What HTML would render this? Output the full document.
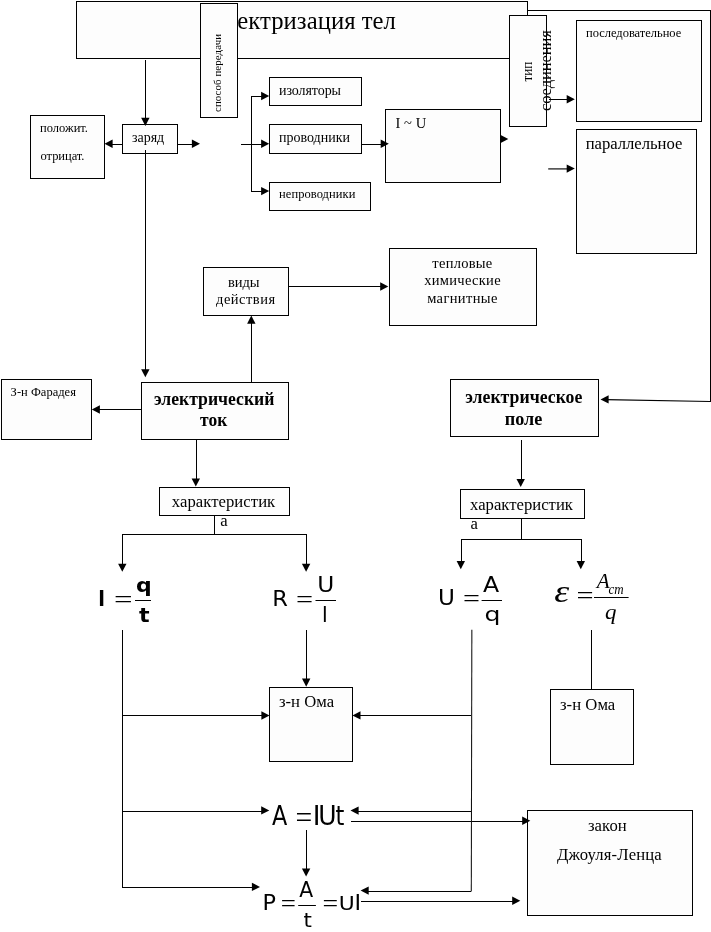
<!DOCTYPE html>
<html lang="ru">
<head>
<meta charset="utf-8">
<title>Электризация тел</title>
<style>
html,body{margin:0;padding:0;background:#fff;}
body{width:711px;height:932px;overflow:hidden;font-family:"Liberation Serif",serif;}
svg{display:block;will-change:transform;opacity:0.999;}
svg .g{shape-rendering:crispEdges;}
svg text{fill:#000;white-space:pre;}
</style>
</head>
<body>
<svg width="711" height="932" viewBox="0 0 711 932">
<rect x="0" y="0" width="711" height="932" fill="#fff"/>
<g class="g">
<rect x="527" y="10" width="184" height="1" fill="#000"/>
<rect x="710" y="10" width="1" height="392" fill="#000"/>
<rect x="76.5" y="1.5" width="451" height="57" fill="#fdfdfd" stroke="#000" stroke-width="1"/>
</g>
<text x="209" y="29" font-family="'Liberation Serif', serif" font-size="24.7" letter-spacing="0.04">Электризация тел</text>
<g class="g">
<rect x="200.5" y="3.5" width="37" height="114" fill="#fdfdfd" stroke="#000" stroke-width="1"/>
<rect x="509.5" y="15.5" width="37" height="111" fill="#fdfdfd" stroke="#000" stroke-width="1"/>
</g>
<text transform="translate(221,112) rotate(-90)" font-family="'Liberation Serif', serif" font-size="10.8" letter-spacing="0.12">способ передачи</text>
<text transform="translate(532,81.5) rotate(-90) scale(0.8475,1)" font-family="'Liberation Serif', serif" font-size="15.5">тип</text>
<text transform="translate(551,111) rotate(-90)" font-family="'Liberation Serif', serif" font-size="16.67" letter-spacing="-0.15">соединения</text>
<g class="g">
<rect x="30.5" y="115.5" width="74" height="63" fill="#fdfdfd" stroke="#000" stroke-width="1"/>
<rect x="122.5" y="124.5" width="55" height="29" fill="#fdfdfd" stroke="#000" stroke-width="1"/>
<rect x="269.5" y="77.5" width="92" height="28" fill="#fdfdfd" stroke="#000" stroke-width="1"/>
<rect x="269.5" y="124.5" width="92" height="29" fill="#fdfdfd" stroke="#000" stroke-width="1"/>
<rect x="269.5" y="182.5" width="101" height="28" fill="#fdfdfd" stroke="#000" stroke-width="1"/>
<rect x="385.5" y="109.5" width="115" height="73" fill="#fdfdfd" stroke="#000" stroke-width="1"/>
<rect x="576.5" y="20.5" width="125" height="101" fill="#fdfdfd" stroke="#000" stroke-width="1"/>
<rect x="576.5" y="129.5" width="120" height="124" fill="#fdfdfd" stroke="#000" stroke-width="1"/>
<rect x="203.5" y="267.5" width="85" height="48" fill="#fdfdfd" stroke="#000" stroke-width="1"/>
<rect x="389.5" y="248.5" width="147" height="77" fill="#fdfdfd" stroke="#000" stroke-width="1"/>
<rect x="1.5" y="379.5" width="90" height="60" fill="#fdfdfd" stroke="#000" stroke-width="1"/>
<rect x="141.5" y="382.5" width="147" height="57" fill="#fdfdfd" stroke="#000" stroke-width="1"/>
<rect x="450.5" y="379.5" width="148" height="57" fill="#fdfdfd" stroke="#000" stroke-width="1"/>
<rect x="159.5" y="487.5" width="130" height="28" fill="#fdfdfd" stroke="#000" stroke-width="1"/>
<rect x="460.5" y="489.5" width="124" height="29" fill="#fdfdfd" stroke="#000" stroke-width="1"/>
<rect x="269.5" y="687.5" width="83" height="74" fill="#fdfdfd" stroke="#000" stroke-width="1"/>
<rect x="550.5" y="689.5" width="83" height="75" fill="#fdfdfd" stroke="#000" stroke-width="1"/>
<rect x="527.5" y="810.5" width="165" height="105" fill="#fdfdfd" stroke="#000" stroke-width="1"/>
<rect x="145" y="60" width="1" height="59" fill="#000"/>
<rect x="145" y="150" width="1" height="222" fill="#000"/>
<rect x="111" y="144" width="12" height="1" fill="#000"/>
<rect x="178" y="144" width="17" height="1" fill="#000"/>
<rect x="241" y="144" width="22" height="1" fill="#000"/>
<rect x="251" y="96" width="1" height="96" fill="#000"/>
<rect x="251" y="96" width="12" height="1" fill="#000"/>
<rect x="251" y="191" width="12" height="1" fill="#000"/>
<rect x="361" y="144" width="22" height="1" fill="#000"/>
<rect x="549" y="99" width="21" height="1" fill="#000"/>
<rect x="288" y="286" width="96" height="1" fill="#000"/>
<rect x="251" y="322" width="1" height="61" fill="#000"/>
<rect x="98" y="409" width="44" height="1" fill="#000"/>
<rect x="196" y="439" width="1" height="42" fill="#000"/>
<rect x="521" y="440" width="1" height="41" fill="#000"/>
<rect x="214" y="515" width="1" height="20" fill="#000"/>
<rect x="122" y="534" width="185" height="1" fill="#000"/>
<rect x="122" y="534" width="1" height="32" fill="#000"/>
<rect x="306" y="534" width="1" height="32" fill="#000"/>
<rect x="521" y="518" width="1" height="22" fill="#000"/>
<rect x="461" y="539" width="121" height="1" fill="#000"/>
<rect x="461" y="539" width="1" height="24" fill="#000"/>
<rect x="581" y="539" width="1" height="24" fill="#000"/>
<rect x="122" y="630" width="1" height="258" fill="#000"/>
<rect x="122" y="715" width="141" height="1" fill="#000"/>
<rect x="122" y="811" width="141" height="1" fill="#000"/>
<rect x="122" y="887" width="132" height="1" fill="#000"/>
<rect x="306" y="630" width="1" height="51" fill="#000"/>
<rect x="306" y="830" width="1" height="41" fill="#000"/>
<rect x="359" y="715" width="112" height="1" fill="#000"/>
<rect x="357" y="811" width="114" height="1" fill="#000"/>
<rect x="367" y="891" width="104" height="1" fill="#000"/>
<rect x="591" y="630" width="1" height="60" fill="#000"/>
<rect x="351" y="821" width="173" height="1" fill="#000"/>
<rect x="361" y="901" width="153" height="1" fill="#000"/>
</g>
<line x1="548.2" y1="168.9" x2="570" y2="168.9" stroke="#222" stroke-width="1.3"/>
<line x1="710" y1="401.5" x2="606" y2="399.6" stroke="#000" stroke-width="1.1"/>
<line x1="471.85" y1="629.8" x2="471.3" y2="891.5" stroke="#111" stroke-width="1.05"/>
<polygon points="145.35,125.9 141.15,117.8 149.55,117.8" fill="#000"/>
<polygon points="145.35,377.3 141.15,369.2 149.55,369.2" fill="#000"/>
<polygon points="104.5,143.8 112.6,139.6 112.6,148" fill="#000"/>
<polygon points="200,143.8 191.9,139.6 191.9,148" fill="#000"/>
<polygon points="269.2,143.8 261.1,139.6 261.1,148" fill="#000"/>
<polygon points="269.2,96 261.1,91.8 261.1,100.2" fill="#000"/>
<polygon points="269.2,191.1 261.1,186.9 261.1,195.3" fill="#000"/>
<polygon points="388.8,143.8 380.7,139.6 380.7,148" fill="#000"/>
<polygon points="508.3,139 500.2,134.8 500.2,143.2" fill="#000"/>
<polygon points="574.8,99.3 566.7,95.1 566.7,103.5" fill="#000"/>
<polygon points="574.8,168.6 566.7,164.4 566.7,172.8" fill="#000"/>
<polygon points="388.3,286.5 380.2,282.3 380.2,290.7" fill="#000"/>
<polygon points="251.3,315.6 247.1,323.7 255.5,323.7" fill="#000"/>
<polygon points="91.8,409.5 99.9,405.3 99.9,413.7" fill="#000"/>
<polygon points="195.8,486.6 191.6,478.5 200,478.5" fill="#000"/>
<polygon points="520.7,487 516.5,478.9 524.9,478.9" fill="#000"/>
<polygon points="122.3,571.8 118.1,563.7 126.5,563.7" fill="#000"/>
<polygon points="306.1,571.8 301.9,563.7 310.3,563.7" fill="#000"/>
<polygon points="460.8,569.2 456.6,561.1 465,561.1" fill="#000"/>
<polygon points="580.8,569.2 576.6,561.1 585,561.1" fill="#000"/>
<polygon points="269.5,715.5 261.4,711.3 261.4,719.7" fill="#000"/>
<polygon points="269.3,810.4 261.2,806.2 261.2,814.6" fill="#000"/>
<polygon points="260,886.9 251.9,882.7 251.9,891.1" fill="#000"/>
<polygon points="306.2,686.7 302,678.6 310.4,678.6" fill="#000"/>
<polygon points="306.1,876.5 301.9,868.4 310.3,868.4" fill="#000"/>
<polygon points="352.4,715.4 360.5,711.2 360.5,719.6" fill="#000"/>
<polygon points="350.5,810.6 358.6,806.4 358.6,814.8" fill="#000"/>
<polygon points="360.6,890.6 368.7,886.4 368.7,894.8" fill="#000"/>
<polygon points="530.3,820.8 522.2,816.6 522.2,825" fill="#000"/>
<polygon points="520.3,900.8 512.2,896.6 512.2,905" fill="#000"/>
<polygon points="600.5,399.4 608.6,395.2 608.6,403.6" fill="#000"/>
<text x="40" y="132" font-family="'Liberation Serif', serif" font-size="12.5" letter-spacing="0.01">положит.</text>
<text x="40.5" y="160" font-family="'Liberation Serif', serif" font-size="12.5" letter-spacing="-0.03">отрицат.</text>
<text x="132" y="142" font-family="'Liberation Serif', serif" font-size="14" letter-spacing="-0.03">заряд</text>
<text x="279" y="95" font-family="'Liberation Serif', serif" font-size="14" letter-spacing="-0.07">изоляторы</text>
<text x="279" y="142" font-family="'Liberation Serif', serif" font-size="14">проводники</text>
<text x="279" y="198" font-family="'Liberation Serif', serif" font-size="12.5" letter-spacing="0.07">непроводники</text>
<text x="395.4" y="128" font-family="'Liberation Serif', serif" font-size="14.5" letter-spacing="0.1">I ~ U</text>
<text x="586" y="37" font-family="'Liberation Serif', serif" font-size="12.5" letter-spacing="-0.02">последовательное</text>
<text x="585.7" y="149" font-family="'Liberation Serif', serif" font-size="16.67" letter-spacing="-0.03">параллельное</text>
<text x="228" y="287" font-family="'Liberation Serif', serif" font-size="14.5" letter-spacing="-0.04">виды</text>
<text x="216.1" y="304" font-family="'Liberation Serif', serif" font-size="14.5" letter-spacing="0.48">действия</text>
<text x="432.3" y="268" font-family="'Liberation Serif', serif" font-size="14.5" letter-spacing="0.28">тепловые</text>
<text x="424.2" y="285" font-family="'Liberation Serif', serif" font-size="14.5" letter-spacing="0.3">химические</text>
<text x="427.2" y="303" font-family="'Liberation Serif', serif" font-size="14.5" letter-spacing="0.36">магнитные</text>
<text x="10.6" y="396" font-family="'Liberation Serif', serif" font-size="12.5" letter-spacing="0.02">З-н Фарадея</text>
<text transform="translate(154,405) scale(0.9303,1)" font-family="'Liberation Serif', serif" font-size="19" font-weight="bold">электрический</text>
<text transform="translate(200.1,426) scale(0.9211,1)" font-family="'Liberation Serif', serif" font-size="19" font-weight="bold">ток</text>
<text transform="translate(465.2,403) scale(0.9352,1)" font-family="'Liberation Serif', serif" font-size="19" font-weight="bold">электрическое</text>
<text transform="translate(504.8,425) scale(0.9570,1)" font-family="'Liberation Serif', serif" font-size="19" font-weight="bold">поле</text>
<text x="171.8" y="507" font-family="'Liberation Serif', serif" font-size="16.67" letter-spacing="0.06">характеристик</text>
<text x="220.3" y="525.5" font-family="'Liberation Serif', serif" font-size="16.67">а</text>
<text x="470.1" y="509.5" font-family="'Liberation Serif', serif" font-size="16.67" letter-spacing="0.01">характеристик</text>
<text x="470.5" y="529" font-family="'Liberation Serif', serif" font-size="16.67">а</text>
<text x="278.9" y="707" font-family="'Liberation Serif', serif" font-size="16.67" letter-spacing="0.05">з-н Ома</text>
<text x="560" y="710" font-family="'Liberation Serif', serif" font-size="16.67" letter-spacing="0.03">з-н Ома</text>
<text x="587.9" y="831" font-family="'Liberation Serif', serif" font-size="16.67" letter-spacing="0.1">закон</text>
<text x="557" y="860" font-family="'Liberation Serif', serif" font-size="16.67" letter-spacing="0.15">Джоуля-Ленца</text>
<text transform="translate(98.14,606) scale(0.1809,0.2112)" font-family="'DejaVu Sans', 'Liberation Sans', sans-serif" font-size="100" font-weight="bold">I</text>
<text transform="translate(114.06,608) scale(0.3288,0.2454)" font-family="'Liberation Serif', serif" font-size="100">=</text>
<rect x="135" y="600" width="16" height="1" fill="#000"/>
<text transform="translate(136.11,592) scale(0.2198,0.1962)" font-family="'DejaVu Sans', 'Liberation Sans', sans-serif" font-size="100" font-weight="bold">q</text>
<text transform="translate(138.91,622) scale(0.2218,0.1980)" font-family="'DejaVu Sans', 'Liberation Sans', sans-serif" font-size="100" font-weight="bold">t</text>
<text transform="translate(272.19,606) scale(0.2254,0.2112)" font-family="'DejaVu Sans', 'Liberation Sans', sans-serif" font-size="100">R</text>
<text transform="translate(295.89,608) scale(0.3030,0.2454)" font-family="'Liberation Serif', serif" font-size="100">=</text>
<rect x="315.5" y="600" width="20.5" height="1" fill="#000"/>
<text transform="translate(317.18,592) scale(0.2329,0.2112)" font-family="'DejaVu Sans', 'Liberation Sans', sans-serif" font-size="100">U</text>
<text transform="translate(322.11,622) scale(0.1926,0.2058)" font-family="'DejaVu Sans', 'Liberation Sans', sans-serif" font-size="100">I</text>
<text transform="translate(437.99,605) scale(0.2311,0.2057)" font-family="'DejaVu Sans', 'Liberation Sans', sans-serif" font-size="100">U</text>
<text transform="translate(463.1,607) scale(0.3009,0.2525)" font-family="'Liberation Serif', serif" font-size="100">=</text>
<rect x="481.6" y="600" width="20.4" height="1" fill="#000"/>
<text transform="translate(482.92,592) scale(0.2365,0.2085)" font-family="'DejaVu Sans', 'Liberation Sans', sans-serif" font-size="100">A</text>
<text transform="translate(484.61,621) scale(0.2517,0.1989)" font-family="'DejaVu Sans', 'Liberation Sans', sans-serif" font-size="100">q</text>
<text transform="translate(554.28,602) scale(0.3795,0.3121)" font-family="'Liberation Serif', serif" font-size="100" font-style="italic">ε</text>
<text transform="translate(576.59,604) scale(0.3030,0.2515)" font-family="'Liberation Serif', serif" font-size="100">=</text>
<rect x="594" y="597" width="34.6" height="1" fill="#000"/>
<text transform="translate(596.76,588) scale(0.2123,0.2151)" font-family="'Liberation Serif', serif" font-size="100" font-style="italic">A</text>
<text transform="translate(608.6,594) scale(0.1299,0.1379)" font-family="'Liberation Serif', serif" font-size="100" font-style="italic">ст</text>
<text transform="translate(605.04,619) scale(0.2301,0.2105)" font-family="'Liberation Serif', serif" font-size="100" font-style="italic">q</text>
<text transform="translate(272.03,825) scale(0.2231,0.2743)" font-family="'DejaVu Sans', 'Liberation Sans', sans-serif" font-size="100">A</text>
<text transform="translate(295.62,828) scale(0.2966,0.3068)" font-family="'Liberation Serif', serif" font-size="100">=</text>
<text transform="translate(312.71,825) scale(0.2636,0.2743)" font-family="'DejaVu Sans', 'Liberation Sans', sans-serif" font-size="100">I</text>
<text transform="translate(318.22,825) scale(0.2508,0.2743)" font-family="'DejaVu Sans', 'Liberation Sans', sans-serif" font-size="100">U</text>
<text transform="translate(335.39,825) scale(0.2256,0.2706)" font-family="'DejaVu Sans', 'Liberation Sans', sans-serif" font-size="100">t</text>
<text transform="translate(262.51,910) scale(0.2231,0.2030)" font-family="'DejaVu Sans', 'Liberation Sans', sans-serif" font-size="100">P</text>
<text transform="translate(280.66,912) scale(0.2686,0.2435)" font-family="'Liberation Serif', serif" font-size="100">=</text>
<rect x="298.2" y="905" width="17.7" height="1" fill="#000"/>
<text transform="translate(299.14,897) scale(0.2036,0.2058)" font-family="'DejaVu Sans', 'Liberation Sans', sans-serif" font-size="100">A</text>
<text transform="translate(303.53,927) scale(0.2139,0.2022)" font-family="'DejaVu Sans', 'Liberation Sans', sans-serif" font-size="100">t</text>
<text transform="translate(322.62,912) scale(0.2772,0.2435)" font-family="'Liberation Serif', serif" font-size="100">=</text>
<text transform="translate(338.8,910) scale(0.2186,0.2030)" font-family="'DejaVu Sans', 'Liberation Sans', sans-serif" font-size="100">U</text>
<text transform="translate(354.61,910) scale(0.2230,0.2030)" font-family="'DejaVu Sans', 'Liberation Sans', sans-serif" font-size="100">I</text>
</svg>
</body>
</html>
